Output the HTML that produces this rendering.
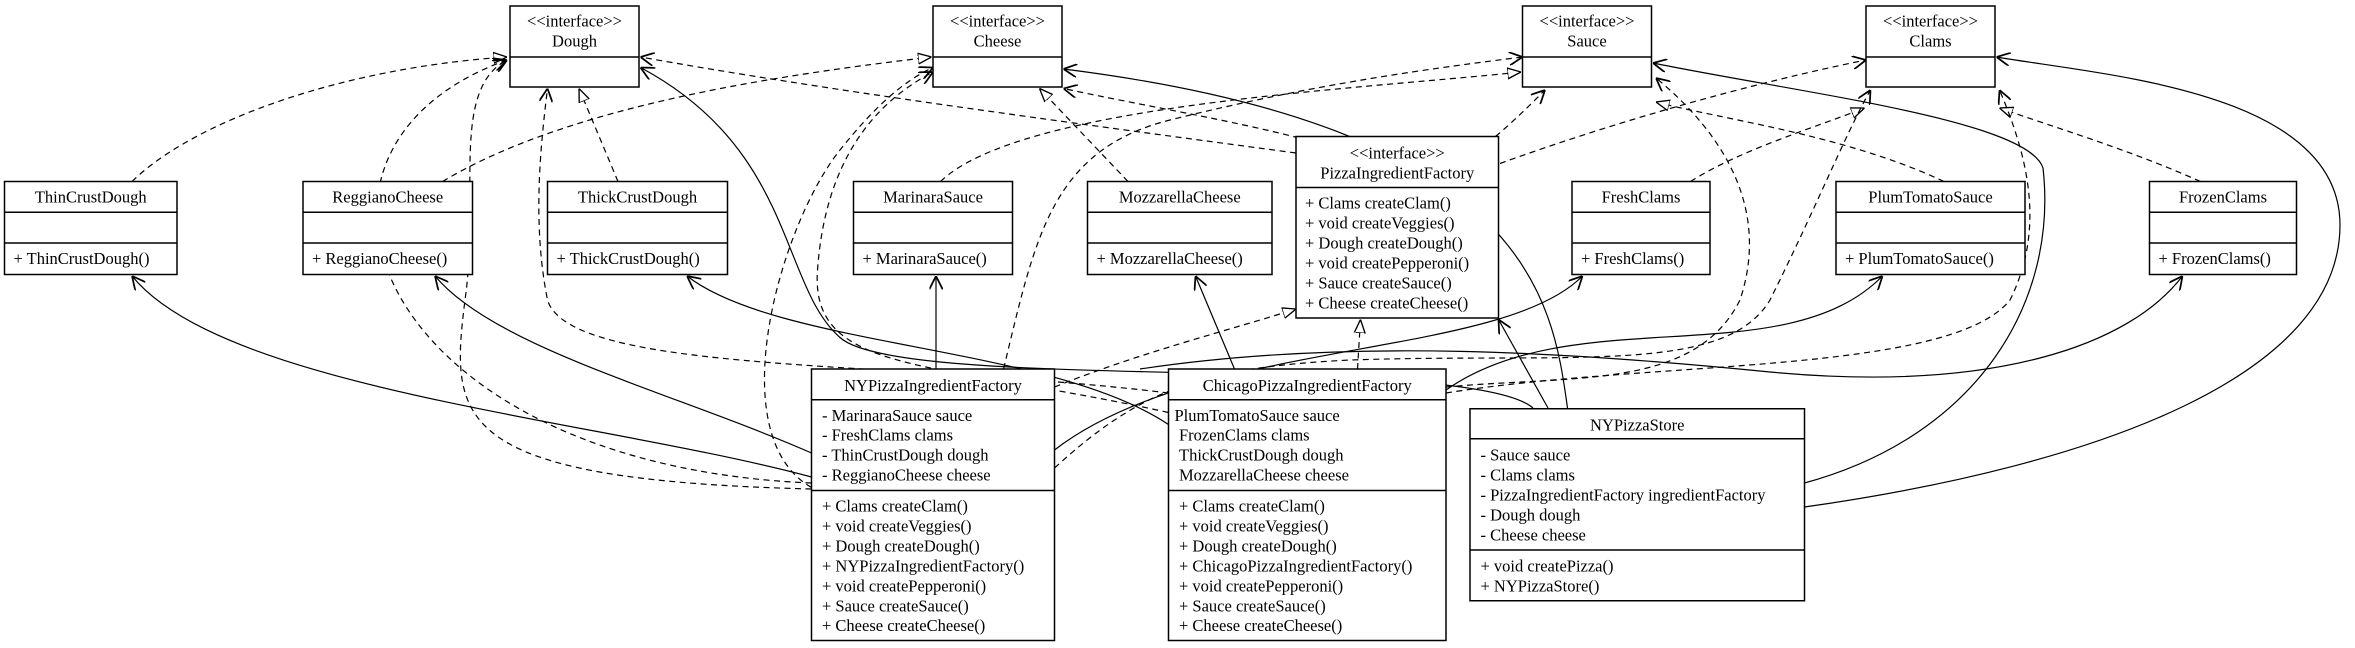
<!DOCTYPE html>
<html><head><meta charset="utf-8"><style>
html,body{margin:0;padding:0;background:#fff;}
svg{display:block}
text{font-family:"Liberation Serif",serif;font-size:11px;fill:#000}
.b{fill:#fff;stroke:#000;stroke-width:1}
.l{stroke:#000;stroke-width:1}
.s{fill:none;stroke:#000;stroke-width:0.8}
.d{fill:none;stroke:#000;stroke-width:0.8;stroke-dasharray:4,3}
</style></head><body>
<svg width="2355" height="648" viewBox="0 0 1570 432" preserveAspectRatio="none" xmlns="http://www.w3.org/2000/svg">
<defs>
<marker id="o" viewBox="0 0 10 10" refX="10" refY="5" markerWidth="9" markerHeight="9" markerUnits="userSpaceOnUse" orient="auto">
<path d="M0,0 L10,5 L0,10" fill="none" stroke="#000" stroke-width="1.3"/></marker>
<marker id="t" viewBox="0 0 10 10" refX="10" refY="5" markerWidth="9" markerHeight="9" markerUnits="userSpaceOnUse" orient="auto">
<path d="M0,1 L10,5 L0,9 Z" fill="#fff" stroke="#000" stroke-width="1"/></marker>
</defs>

<!-- solid associations -->
<path class="s" marker-end="url(#o)" d="M541,318 C400,280 150,260 88,184"/>
<path class="s" marker-end="url(#o)" d="M541,302 C450,262 330,232 290,184"/>
<path class="s" marker-end="url(#o)" d="M624,246 L624,184"/>
<path class="s" marker-end="url(#o)" d="M703,300 C800,225 1000,240 1055,184"/>
<path class="s" marker-end="url(#o)" d="M779,283 C700,230 520,232 458,184"/>
<path class="s" marker-end="url(#o)" d="M823,246 L797,184"/>
<path class="s" marker-end="url(#o)" d="M964,260 C1050,200 1190,250 1255,184"/>
<path class="s" marker-end="url(#o)" d="M760,246 C900,225 1050,235 1180,248 C1330,262 1420,230 1455,184"/>
<path class="s" marker-end="url(#o)" d="M1022,272 C980,235 600,262 560,225 C520,190 530,100 427,45"/>
<path class="s" marker-end="url(#o)" d="M1045,272 C1035,200 1020,85 709,46"/>
<path class="s" marker-end="url(#o)" d="M1032,272 L999,213"/>
<path class="s" marker-end="url(#o)" d="M1203,322 C1320,290 1372,200 1362,112 C1352,80 1200,62 1102,42"/>
<path class="s" marker-end="url(#o)" d="M1203,338 C1400,310 1560,250 1560,150 C1560,60 1400,50 1331,38"/>

<!-- realizations -->
<path class="d" marker-end="url(#t)" d="M88,121 C130,80 230,45 338,38"/>
<path class="d" marker-end="url(#t)" d="M412,121 L386,59"/>
<path class="d" marker-end="url(#t)" d="M295,121 C380,70 520,50 621,38"/>
<path class="d" marker-end="url(#t)" d="M752,121 L693,59"/>
<path class="d" marker-end="url(#t)" d="M627,121 C680,70 900,60 1014,48"/>
<path class="d" marker-end="url(#t)" d="M1296,121 C1230,90 1150,80 1104,68"/>
<path class="d" marker-end="url(#t)" d="M1127,121 C1160,100 1210,85 1243,72"/>
<path class="d" marker-end="url(#t)" d="M1467,121 C1420,100 1370,85 1333,72"/>
<path class="d" marker-end="url(#t)" d="M703,258 C760,235 820,220 864,206"/>
<path class="d" marker-end="url(#t)" d="M905,246 L907,213"/>

<!-- dependencies -->
<path class="d" marker-end="url(#o)" d="M864,102 C700,80 550,60 427,38"/>
<path class="d" marker-end="url(#o)" d="M866,92 C820,80 760,70 709,59"/>
<path class="d" marker-end="url(#o)" d="M997,91 C1010,80 1020,70 1030,60"/>
<path class="d" marker-end="url(#o)" d="M1000,109 C1080,80 1170,55 1244,40"/>
<path class="d" marker-end="url(#o)" d="M541,322 C250,310 170,100 338,40"/>
<path class="d" marker-end="url(#o)" d="M541,326 C300,320 300,280 310,200 C320,130 300,60 338,40"/>
<path class="d" marker-end="url(#o)" d="M779,262 C600,240 380,250 365,200 C355,150 360,100 365,59"/>
<path class="d" marker-end="url(#o)" d="M964,262 C1100,240 1300,250 1340,200 C1365,150 1350,100 1333,60"/>
<path class="d" marker-end="url(#o)" d="M541,325 C480,290 520,150 560,100 C580,75 600,55 622,45"/>
<path class="d" marker-end="url(#o)" d="M779,275 C620,240 540,250 545,180 C550,110 580,70 622,48"/>
<path class="d" marker-end="url(#o)" d="M669,246 C690,160 700,100 780,80 C880,55 960,45 1015,38"/>
<path class="d" marker-end="url(#o)" d="M703,312 C760,260 800,245 900,240 C1050,235 1150,250 1180,200 C1210,140 1230,90 1247,60"/>
<path class="d" marker-end="url(#o)" d="M964,258 C1050,250 1130,260 1160,200 C1180,140 1150,90 1104,52"/>

<!-- interfaces -->
<g>
<rect class="b" x="340" y="4" width="86" height="54"/><line class="l" x1="340" y1="38" x2="426" y2="38"/>
<text x="383" y="17.5" text-anchor="middle">&lt;&lt;interface&gt;&gt;</text><text x="383" y="31" text-anchor="middle">Dough</text>
<rect class="b" x="622" y="4" width="86" height="54"/><line class="l" x1="622" y1="38" x2="708" y2="38"/>
<text x="665" y="17.5" text-anchor="middle">&lt;&lt;interface&gt;&gt;</text><text x="665" y="31" text-anchor="middle">Cheese</text>
<rect class="b" x="1015" y="4" width="86" height="54"/><line class="l" x1="1015" y1="38" x2="1101" y2="38"/>
<text x="1058" y="17.5" text-anchor="middle">&lt;&lt;interface&gt;&gt;</text><text x="1058" y="31" text-anchor="middle">Sauce</text>
<rect class="b" x="1244" y="4" width="86" height="54"/><line class="l" x1="1244" y1="38" x2="1330" y2="38"/>
<text x="1287" y="17.5" text-anchor="middle">&lt;&lt;interface&gt;&gt;</text><text x="1287" y="31" text-anchor="middle">Clams</text>
</g>

<!-- concrete classes -->
<g>
<rect class="b" x="3" y="121" width="115" height="62"/><line class="l" x1="3" y1="141.5" x2="118" y2="141.5"/><line class="l" x1="3" y1="162" x2="118" y2="162"/>
<text x="60.5" y="135" text-anchor="middle">ThinCrustDough</text><text x="9" y="176">+ ThinCrustDough()</text>
<rect class="b" x="202" y="121" width="113" height="62"/><line class="l" x1="202" y1="141.5" x2="315" y2="141.5"/><line class="l" x1="202" y1="162" x2="315" y2="162"/>
<text x="258.5" y="135" text-anchor="middle">ReggianoCheese</text><text x="208" y="176">+ ReggianoCheese()</text>
<rect class="b" x="365" y="121" width="120" height="62"/><line class="l" x1="365" y1="141.5" x2="485" y2="141.5"/><line class="l" x1="365" y1="162" x2="485" y2="162"/>
<text x="425" y="135" text-anchor="middle">ThickCrustDough</text><text x="371" y="176">+ ThickCrustDough()</text>
<rect class="b" x="569" y="121" width="106" height="62"/><line class="l" x1="569" y1="141.5" x2="675" y2="141.5"/><line class="l" x1="569" y1="162" x2="675" y2="162"/>
<text x="622" y="135" text-anchor="middle">MarinaraSauce</text><text x="575" y="176">+ MarinaraSauce()</text>
<rect class="b" x="725" y="121" width="123" height="62"/><line class="l" x1="725" y1="141.5" x2="848" y2="141.5"/><line class="l" x1="725" y1="162" x2="848" y2="162"/>
<text x="786.5" y="135" text-anchor="middle">MozzarellaCheese</text><text x="731" y="176">+ MozzarellaCheese()</text>
<rect class="b" x="1048" y="121" width="92" height="62"/><line class="l" x1="1048" y1="141.5" x2="1140" y2="141.5"/><line class="l" x1="1048" y1="162" x2="1140" y2="162"/>
<text x="1094" y="135" text-anchor="middle">FreshClams</text><text x="1054" y="176">+ FreshClams()</text>
<rect class="b" x="1224" y="121" width="126" height="62"/><line class="l" x1="1224" y1="141.5" x2="1350" y2="141.5"/><line class="l" x1="1224" y1="162" x2="1350" y2="162"/>
<text x="1287" y="135" text-anchor="middle">PlumTomatoSauce</text><text x="1230" y="176">+ PlumTomatoSauce()</text>
<rect class="b" x="1433" y="121" width="98" height="62"/><line class="l" x1="1433" y1="141.5" x2="1531" y2="141.5"/><line class="l" x1="1433" y1="162" x2="1531" y2="162"/>
<text x="1482" y="135" text-anchor="middle">FrozenClams</text><text x="1439" y="176">+ FrozenClams()</text>
</g>

<!-- PizzaIngredientFactory -->
<rect class="b" x="864" y="91" width="135" height="121"/><line class="l" x1="864" y1="125" x2="999" y2="125"/>
<text x="931.5" y="105.5" text-anchor="middle">&lt;&lt;interface&gt;&gt;</text><text x="931.5" y="119" text-anchor="middle">PizzaIngredientFactory</text>
<text x="870" y="139">+ Clams createClam()</text>
<text x="870" y="152.3">+ void createVeggies()</text>
<text x="870" y="165.6">+ Dough createDough()</text>
<text x="870" y="178.9">+ void createPepperoni()</text>
<text x="870" y="192.2">+ Sauce createSauce()</text>
<text x="870" y="205.5">+ Cheese createCheese()</text>

<!-- NYPizzaIngredientFactory -->
<rect class="b" x="541" y="246" width="162" height="181"/><line class="l" x1="541" y1="266.5" x2="703" y2="266.5"/><line class="l" x1="541" y1="327" x2="703" y2="327"/>
<text x="622" y="260.5" text-anchor="middle">NYPizzaIngredientFactory</text>
<text x="548" y="280.5">- MarinaraSauce sauce</text>
<text x="548" y="293.8">- FreshClams clams</text>
<text x="548" y="307.1">- ThinCrustDough dough</text>
<text x="548" y="320.4">- ReggianoCheese cheese</text>
<text x="548" y="341">+ Clams createClam()</text>
<text x="548" y="354.3">+ void createVeggies()</text>
<text x="548" y="367.6">+ Dough createDough()</text>
<text x="548" y="380.9">+ NYPizzaIngredientFactory()</text>
<text x="548" y="394.2">+ void createPepperoni()</text>
<text x="548" y="407.5">+ Sauce createSauce()</text>
<text x="548" y="420.8">+ Cheese createCheese()</text>

<!-- ChicagoPizzaIngredientFactory -->
<rect class="b" x="779" y="246" width="185" height="181"/><line class="l" x1="779" y1="266.5" x2="964" y2="266.5"/><line class="l" x1="779" y1="327" x2="964" y2="327"/>
<text x="871.5" y="260.5" text-anchor="middle">ChicagoPizzaIngredientFactory</text>
<text x="783" y="280.5">PlumTomatoSauce sauce</text>
<text x="786" y="293.8">FrozenClams clams</text>
<text x="786" y="307.1">ThickCrustDough dough</text>
<text x="786" y="320.4">MozzarellaCheese cheese</text>
<text x="786" y="341">+ Clams createClam()</text>
<text x="786" y="354.3">+ void createVeggies()</text>
<text x="786" y="367.6">+ Dough createDough()</text>
<text x="786" y="380.9">+ ChicagoPizzaIngredientFactory()</text>
<text x="786" y="394.2">+ void createPepperoni()</text>
<text x="786" y="407.5">+ Sauce createSauce()</text>
<text x="786" y="420.8">+ Cheese createCheese()</text>

<!-- NYPizzaStore -->
<rect class="b" x="980" y="272.5" width="223" height="128"/><line class="l" x1="980" y1="292.5" x2="1203" y2="292.5"/><line class="l" x1="980" y1="366.7" x2="1203" y2="366.7"/>
<text x="1091.5" y="287" text-anchor="middle">NYPizzaStore</text>
<text x="987" y="307">- Sauce sauce</text>
<text x="987" y="320.3">- Clams clams</text>
<text x="987" y="333.6">- PizzaIngredientFactory ingredientFactory</text>
<text x="987" y="346.9">- Dough dough</text>
<text x="987" y="360.2">- Cheese cheese</text>
<text x="987" y="381">+ void createPizza()</text>
<text x="987" y="394.3">+ NYPizzaStore()</text>
</svg>
</body></html>
